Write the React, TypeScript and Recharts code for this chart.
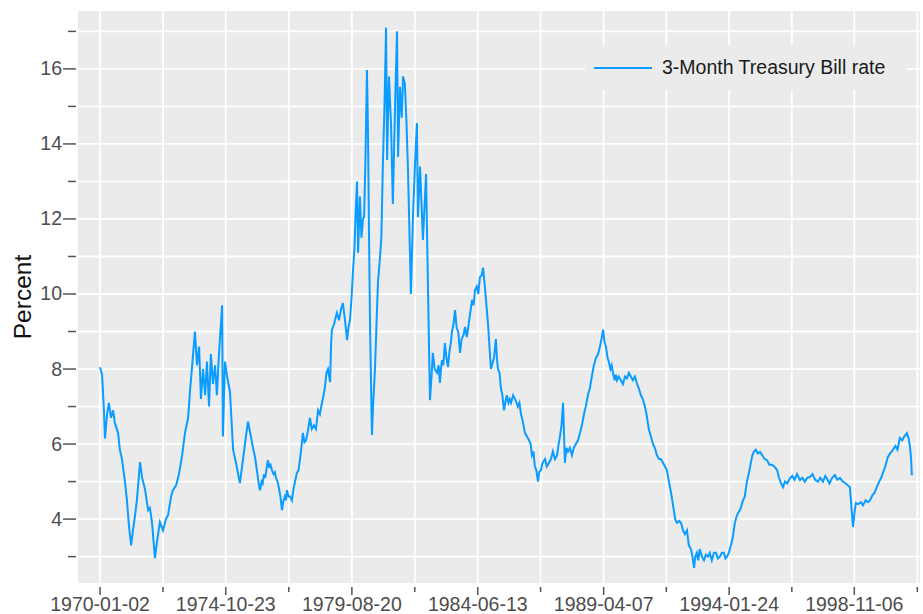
import { LineChart, Line, XAxis, YAxis, CartesianGrid, Legend } from "recharts";

// decimal years of each reading and the 3-month T-bill rate (percent)
const years = [
  1970.0, 1970.08, 1970.15, 1970.19, 1970.27, 1970.34, 1970.42, 1970.5, 1970.57, 1970.69, 1970.76, 1970.84, 1970.96,
  1971.03, 1971.11, 1971.19, 1971.26, 1971.34, 1971.41, 1971.53, 1971.61, 1971.72, 1971.84, 1971.91, 1971.99,
  1972.1, 1972.18, 1972.29, 1972.41, 1972.52, 1972.6, 1972.72, 1972.79, 1972.91,
  1973.02, 1973.14, 1973.25, 1973.37, 1973.44, 1973.52, 1973.63, 1973.71, 1973.79, 1973.86, 1973.94,
  1974.02, 1974.09, 1974.17, 1974.24, 1974.32, 1974.4, 1974.47, 1974.55, 1974.67, 1974.7, 1974.78, 1974.86, 1974.97,
  1975.09, 1975.2, 1975.35, 1975.47, 1975.58, 1975.66, 1975.77, 1975.85, 1975.93,
  1976.04, 1976.08, 1976.12, 1976.18, 1976.22, 1976.27, 1976.32, 1976.37, 1976.42, 1976.47, 1976.52, 1976.58, 1976.64, 1976.69, 1976.73, 1976.79, 1976.85, 1976.9, 1976.96,
  1977.02, 1977.07, 1977.11, 1977.15, 1977.21, 1977.27, 1977.34, 1977.4, 1977.46, 1977.53, 1977.59, 1977.65, 1977.7, 1977.76, 1977.82, 1977.88, 1977.95,
  1978.03, 1978.1, 1978.18, 1978.26, 1978.34, 1978.41, 1978.49, 1978.55, 1978.6, 1978.66, 1978.72, 1978.8, 1978.84, 1978.87, 1978.95,
  1979.06, 1979.14, 1979.22, 1979.29, 1979.37, 1979.45, 1979.5, 1979.56, 1979.62, 1979.67, 1979.73, 1979.78, 1979.83, 1979.87, 1979.94,
  1980.0, 1980.06, 1980.1, 1980.15, 1980.21, 1980.25, 1980.29, 1980.33, 1980.37, 1980.4, 1980.45, 1980.52, 1980.58, 1980.63, 1980.7, 1980.76, 1980.82, 1980.88, 1980.94, 1980.98,
  1981.05, 1981.13, 1981.2, 1981.28, 1981.36, 1981.4, 1981.47, 1981.54, 1981.59, 1981.66, 1981.72, 1981.78, 1981.84, 1981.89, 1981.97,
  1982.05, 1982.12, 1982.16, 1982.24, 1982.35, 1982.47, 1982.54, 1982.62, 1982.68, 1982.73, 1982.8, 1982.89, 1982.95,
  1983.0, 1983.04, 1983.08, 1983.13, 1983.19, 1983.25, 1983.31, 1983.37, 1983.42, 1983.46, 1983.52, 1983.58, 1983.64, 1983.7, 1983.77, 1983.83, 1983.9, 1983.96,
  1984.03, 1984.1, 1984.16, 1984.23, 1984.29, 1984.34, 1984.41, 1984.47, 1984.53, 1984.6, 1984.65, 1984.72, 1984.84, 1984.95,
  1985.07, 1985.14, 1985.18, 1985.22, 1985.28, 1985.33, 1985.39, 1985.45, 1985.5, 1985.56, 1985.62, 1985.67, 1985.72, 1985.8, 1985.87, 1985.93, 1985.98,
  1986.04, 1986.1, 1986.17, 1986.25, 1986.33, 1986.41, 1986.47, 1986.52, 1986.58, 1986.63, 1986.69, 1986.75, 1986.8, 1986.86, 1986.93,
  1987.02, 1987.09, 1987.17, 1987.25, 1987.32, 1987.4, 1987.48, 1987.54, 1987.59, 1987.65, 1987.71, 1987.75, 1987.78, 1987.84, 1987.9, 1987.97,
  1988.05, 1988.12, 1988.2, 1988.28, 1988.36, 1988.43, 1988.51, 1988.58, 1988.66, 1988.74, 1988.81, 1988.89, 1988.97,
  1989.05, 1989.12, 1989.18, 1989.24, 1989.3, 1989.35, 1989.41, 1989.46, 1989.52, 1989.57, 1989.62, 1989.68, 1989.73, 1989.77, 1989.84, 1989.92,
  1990.0, 1990.08, 1990.15, 1990.23, 1990.3, 1990.38, 1990.46, 1990.54, 1990.6, 1990.69, 1990.76, 1990.84, 1990.9, 1990.99,
  1991.07, 1991.15, 1991.22, 1991.3, 1991.38, 1991.45, 1991.53, 1991.61, 1991.68, 1991.76, 1991.84, 1991.91,
  1992.0, 1992.07, 1992.15, 1992.22, 1992.3, 1992.37, 1992.45, 1992.52, 1992.6, 1992.66, 1992.72, 1992.77, 1992.83, 1992.88, 1992.94,
  1993.02, 1993.1, 1993.17, 1993.25, 1993.32, 1993.4, 1993.48, 1993.56, 1993.63, 1993.71, 1993.78, 1993.86, 1993.92, 1993.98,
  1994.05, 1994.13, 1994.2, 1994.28, 1994.36, 1994.44, 1994.51, 1994.59, 1994.66, 1994.74, 1994.81, 1994.89, 1994.95,
  1995.01, 1995.08, 1995.16, 1995.24, 1995.33, 1995.42, 1995.51, 1995.6, 1995.7, 1995.81, 1995.9, 1995.97,
  1996.05, 1996.12, 1996.2, 1996.28, 1996.39, 1996.48, 1996.56, 1996.66, 1996.77, 1996.86, 1996.95,
  1997.05, 1997.15, 1997.25, 1997.35, 1997.46, 1997.55, 1997.65, 1997.74, 1997.8, 1997.9,
  1998.0, 1998.11, 1998.2, 1998.3, 1998.41, 1998.52, 1998.6, 1998.68, 1998.74, 1998.8, 1998.86, 1998.91,
  1999.0, 1999.1, 1999.18, 1999.28, 1999.36, 1999.45, 1999.55, 1999.62, 1999.71, 1999.8, 1999.88, 1999.94,
  2000.03, 2000.13, 2000.22, 2000.32, 2000.42, 2000.5, 2000.59, 2000.68, 2000.76, 2000.86, 2000.93, 2000.98,
  2001.02, 2001.05,
];

const rates = [
  8.05, 7.85, 6.9, 6.15, 6.8, 7.1, 6.7, 6.9, 6.55, 6.3, 5.85, 5.6, 4.96,
  4.5, 3.8, 3.3, 3.7, 4.1, 4.5, 5.52, 5.1, 4.8, 4.24, 4.3, 3.9,
  2.96, 3.4, 3.92, 3.7, 4.0, 4.1, 4.6, 4.77, 4.9,
  5.2, 5.7, 6.3, 6.7, 7.4, 8.05, 9.0, 8.1, 8.6, 7.2, 8.0,
  7.3, 8.2, 7.0, 8.4, 7.6, 8.1, 7.3, 8.4, 9.7, 6.2, 8.2, 7.8, 7.4,
  5.85, 5.5, 4.96, 5.6, 6.2, 6.6, 6.2, 5.9, 5.65,
  5.1, 4.9, 4.77, 5.0, 4.95, 5.2, 5.1, 5.35, 5.57, 5.4, 5.45, 5.3, 5.2, 5.25, 5.1, 5.0, 4.8, 4.6, 4.24,
  4.5, 4.6, 4.5, 4.77, 4.6, 4.6, 4.5, 4.8, 5.0, 5.23, 5.3, 5.6, 5.9, 6.3, 6.05, 6.1, 6.35,
  6.7, 6.4, 6.5, 6.4, 6.9, 6.8, 7.1, 7.3, 7.5, 7.9, 8.0, 7.65, 8.7, 9.04, 9.2,
  9.5, 9.3, 9.6, 9.76, 9.3, 8.77, 9.1, 9.3, 9.9, 10.56, 11.2, 12.2, 13.0, 11.1, 12.6,
  11.5, 12.0, 12.05, 13.5, 15.97, 14.3, 11.5, 9.04, 7.4, 6.24, 7.1, 8.05, 9.3, 10.3, 10.9, 11.5, 13.5, 15.0, 17.1, 13.57,
  15.8, 14.56, 12.4, 14.9, 17.0, 13.65, 15.52, 14.7, 15.8, 15.6, 14.6, 13.3, 11.5, 10.0, 12.05,
  13.5, 14.56, 12.05, 13.4, 11.44, 13.2, 10.3, 7.17, 7.8, 8.43, 8.0, 7.9, 8.1,
  7.63, 8.0, 8.24, 8.1, 8.69, 8.3, 8.05, 8.5, 8.7, 9.0, 9.2, 9.57, 9.1, 9.0, 8.43, 8.8, 8.9, 9.12,
  8.85, 9.2, 9.5, 9.84, 9.7, 10.1, 10.2, 10.0, 10.45, 10.5, 10.7, 10.2, 9.2, 8.0,
  8.3, 8.8, 8.3, 8.0, 7.9, 7.5, 7.3, 6.9, 7.1, 7.3, 7.1, 7.2, 7.1, 7.3, 7.2, 7.1, 7.0,
  7.1, 6.8, 6.6, 6.3, 6.2, 6.1, 6.0, 5.7, 5.8, 5.4, 5.3, 5.0, 5.25, 5.3, 5.5,
  5.6, 5.4, 5.5, 5.6, 5.8, 5.6, 5.7, 6.0, 6.2, 6.5, 7.1, 6.2, 5.5, 5.9, 5.8, 5.9,
  5.7, 5.9, 6.0, 6.1, 6.3, 6.5, 6.8, 7.0, 7.3, 7.5, 7.8, 8.1, 8.3,
  8.4, 8.6, 8.8, 9.05, 8.7, 8.6, 8.3, 8.2, 8.0, 8.1, 7.9, 7.7, 7.85, 7.7, 7.8, 7.7,
  7.6, 7.8, 7.75, 7.9, 7.8, 7.7, 7.8, 7.6, 7.5, 7.3, 7.2, 7.0, 6.8, 6.4,
  6.2, 6.0, 5.9, 5.7, 5.6, 5.6, 5.5, 5.4, 5.3, 5.0, 4.7, 4.4,
  4.0, 3.9, 3.95, 3.9, 3.7, 3.6, 3.7, 3.3, 3.2, 3.0, 2.7, 3.0, 3.1, 2.9, 3.2,
  3.0, 2.9, 3.05, 3.0, 3.1, 2.9, 3.1, 3.1, 2.95, 3.0, 3.1, 3.1, 2.95, 3.0,
  3.1, 3.3, 3.5, 3.9, 4.1, 4.2, 4.3, 4.5, 4.6, 5.0, 5.2, 5.5, 5.7,
  5.8, 5.85, 5.75, 5.79, 5.7, 5.6, 5.57, 5.45, 5.45, 5.39, 5.3, 5.1,
  4.95, 4.85, 5.0, 4.95, 5.09, 5.15, 5.05, 5.2, 5.04, 5.1, 5.0,
  5.1, 5.12, 5.2, 5.05, 5.0, 5.1, 5.0, 5.15, 5.08, 4.95,
  5.1, 5.17, 5.05, 5.1, 5.0, 4.95, 4.9, 4.85, 4.3, 3.79, 4.2, 4.43,
  4.4, 4.45, 4.37, 4.5, 4.45, 4.5, 4.65, 4.7, 4.85, 5.0, 5.1, 5.23,
  5.4, 5.65, 5.75, 5.84, 5.95, 5.85, 6.16, 6.1, 6.2, 6.29, 6.15, 5.92,
  5.6, 5.17,
];

const majorTicks = [1970.003, 1974.808, 1979.633, 1984.448, 1989.263, 1994.063, 1998.849];
const majorLabels = ["1970-01-02", "1974-10-23", "1979-08-20", "1984-06-13", "1989-04-07", "1994-01-24", "1998-11-06"];
const minorTicks = [1972.41, 1977.22, 1982.04, 1986.85, 1991.66, 1996.46, 2001.26];
const yTicks = [3, 4, 5, 6, 7, 8, 9, 10, 11, 12, 13, 14, 15, 16, 17];

const data = years.map((t, i) => ({ t, rate: rates[i] }));
const xTicks = [...majorTicks, ...minorTicks].sort((a, b) => a - b);

const FONT = "'Liberation Sans', Arial, sans-serif";
const LINE_COLOR = "#0a9cff";

function XTick({ x, y, payload }: any) {
  const idx = majorTicks.indexOf(payload.value);
  const major = idx >= 0;
  return (
    <g>
      <line x1={x} x2={x} y1={y + 3} y2={y + (major ? 11 : 8)} stroke="#555" strokeWidth={1.5} />
      {major && (
        <text x={x} y={y + 27} textAnchor="middle" fontSize={19.5} fill="#4d4d4d" fontFamily={FONT}>
          {majorLabels[idx]}
        </text>
      )}
    </g>
  );
}

function YTick({ x, y, payload }: any) {
  const major = payload.value % 2 === 0;
  return (
    <g>
      <line x1={x - (major ? 14 : 9)} x2={x - 1} y1={y} y2={y} stroke="#555" strokeWidth={1.5} />
      {major && (
        <text x={x - 15} y={y + 6.5} textAnchor="end" fontSize={19.5} fill="#4d4d4d" fontFamily={FONT}>
          {payload.value}
        </text>
      )}
    </g>
  );
}

function PercentLabel({ viewBox }: any) {
  const cx = viewBox.x + 15;
  const cy = viewBox.y + viewBox.height / 2;
  return (
    <text
      x={cx}
      y={cy}
      transform={`rotate(-90 ${cx} ${cy})`}
      textAnchor="middle"
      dominantBaseline="central"
      fontSize={24.5}
      fill="#111"
      fontFamily={FONT}
    >
      Percent
    </text>
  );
}

function LegendBox() {
  return (
    <div
      style={{
        background: "#ebebeb",
        width: 322,
        height: 45,
        display: "flex",
        alignItems: "center",
        fontFamily: FONT,
        fontSize: 19.5,
        color: "#1a1a1a",
      }}
    >
      <span style={{ display: "inline-block", width: 58, height: 2, background: LINE_COLOR, marginLeft: 9, marginRight: 10 }} />
      <span>3-Month Treasury Bill rate</span>
    </div>
  );
}

export default function App() {
  return (
    <div style={{ position: "absolute", left: 0, top: 0, background: "#fff" }}>
      <LineChart width={923} height={614} data={data} margin={{ top: 10, right: 2, bottom: 0, left: 7 }}>
        <CartesianGrid fill="#ebebeb" fillOpacity={1} stroke="#ffffff" strokeWidth={1.8} />
        <XAxis
          dataKey="t"
          type="number"
          domain={[1969.12, 2001.4]}
          ticks={xTicks}
          interval={0}
          height={30}
          tickSize={0}
          tickMargin={0}
          axisLine={false}
          tickLine={false}
          tick={<XTick />}
          allowDataOverflow
        />
        <YAxis
          type="number"
          domain={[2.27, 17.57]}
          ticks={yTicks}
          interval={0}
          width={70}
          tickSize={0}
          tickMargin={0}
          axisLine={false}
          tickLine={false}
          tick={<YTick />}
          allowDataOverflow
          label={<PercentLabel />}
        />
        <Legend
          layout="horizontal"
          verticalAlign="middle"
          align="center"
          wrapperStyle={{ top: 45, left: 585, width: 322, height: 45 }}
          content={() => <LegendBox />}
        />
        <Line
          type="linear"
          dataKey="rate"
          name="3-Month Treasury Bill rate"
          stroke={LINE_COLOR}
          strokeWidth={2}
          dot={false}
          isAnimationActive={false}
        />
      </LineChart>
    </div>
  );
}
